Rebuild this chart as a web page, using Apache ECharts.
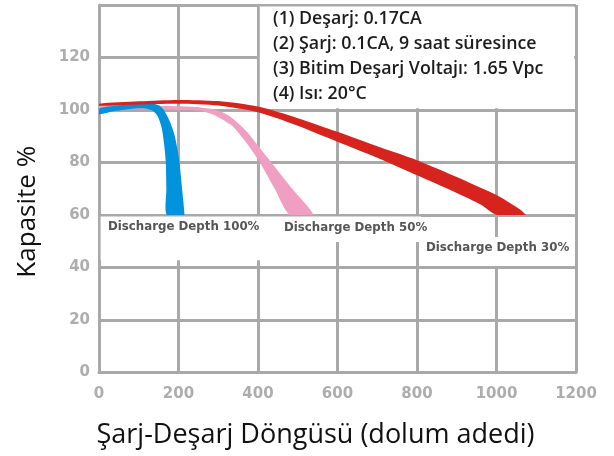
<!DOCTYPE html>
<html><head><meta charset="utf-8">
<script src="https://cdn.jsdelivr.net/npm/echarts@6/dist/echarts.min.js"></script>
<style>html,body{margin:0;padding:0;background:#fff}#c{width:614px;height:456px}</style>
</head><body><div id="c"></div>
<script>
// ---- data ----
const xTicks = [0, 200, 400, 600, 800, 1000, 1200];
const yTicks = [0, 20, 40, 60, 80, 100, 120];

// Discharge Depth 100% (blue band): outer edge and inner edge
const blueUpper = [[0,100.5],[40,101.6],[90,102.5],[125,102.8],[150,101.8],[160,100.6],[170,98.2],[180,95.0],[190,90.5],[197.5,85.0],[202.5,80.0],[209,70.0],[215,60.0]];
const blueLower = [[0,98.4],[40,99.6],[90,100.6],[118,100.6],[136,99.6],[148,97.5],[158,93.0],[164,86.7],[168,80.0],[169.5,70.0],[170.5,60.0]];

// Discharge Depth 50% (pink band)
const pinkUpper = [[0,101.8],[100,101.7],[204,101.4],[254,101.0],[296,100.0],[330,97.5],[372,91.7],[405,85.4],[432,80.3],[485,70.2],[539,60.0]];
const pinkLower = [[0,100.3],[100,100.3],[204,100.0],[254,99.6],[288,98.2],[330,94.6],[342,93.0],[375,86.7],[405,80.0],[442,70.0],[480,60.0]];

// Discharge Depth 30% (red band)
const redUpper = [[0,102.4],[100,103.3],[200,103.85],[300,103.4],[400,101.3],[500,96.9],[600,91.7],[700,86.2],[800,80.9],[900,74.5],[1000,67.6],[1040,64.0],[1060,62.0],[1074,60.0]];
const redLower = [[0,101.6],[100,102.1],[200,102.4],[300,101.7],[400,99.1],[500,94.0],[600,87.9],[700,81.8],[800,75.1],[900,68.4],[960,64.0],[1001,60.0]];

const bandLabels = ['Discharge Depth 100%', 'Discharge Depth 50%', 'Discharge Depth 30%'];
const noteLines = ['(1) Deşarj: 0.17CA', '(2) Şarj: 0.1CA, 9 saat süresince', '(3) Bitim Deşarj Voltajı: 1.65 Vpc', '(4) Isı: 20°C'];
const xName = 'Şarj-Deşarj Döngüsü (dolum adedi)';
const yName = 'Kapasite %';

// ---- chart ----
const chart = echarts.init(document.getElementById('c'), null, {renderer: 'canvas'});
const gridColor = '#a9a9a9';

function bandSeries(name, upper, lower, color, z) {
  const pts = upper.concat(lower.slice().reverse());
  return {
    type: 'custom', name: name, z: z, coordinateSystem: 'cartesian2d',
    data: pts, encode: {x: 0, y: 1}, silent: true, clip: true,
    renderItem: function (params, api) {
      if (params.dataIndex !== 0) return null;
      const p = pts.map(function (d) { return api.coord(d); });
      return {type: 'polygon', shape: {points: p, smooth: 0.25, smoothConstraint: [p[0], p[0]]}, style: {fill: color}};
    }
  };
}

const option = {
  animation: false,
  backgroundColor: '#ffffff',
  grid: {left: 99, right: 38, top: 5, bottom: 83.5, containLabel: false},
  xAxis: {
    type: 'value', min: 0, max: 1200, interval: 200,
    name: xName, nameLocation: 'middle', nameGap: 49,
    nameTextStyle: {fontFamily: 'Open Sans', fontSize: 27, color: '#111', padding: [0, 44, 0, 0]},
    axisLine: {show: true, lineStyle: {color: gridColor, width: 3}},
    axisTick: {show: false},
    splitLine: {show: true, lineStyle: {color: gridColor, width: 3}},
    axisLabel: {margin: 14, fontFamily: 'DejaVu Sans', fontWeight: 'bold', fontSize: 15, color: '#adadad',
      formatter: function (v) { return xTicks.indexOf(v) >= 0 ? String(v) : ''; }}
  },
  yAxis: {
    type: 'value', min: 0, max: 140, interval: 20,
    name: yName, nameLocation: 'middle', nameGap: 58, nameRotate: 90,
    nameTextStyle: {fontFamily: 'Open Sans', fontSize: 26, color: '#111', padding: [0, 46, 0, 0]},
    axisLine: {show: true, lineStyle: {color: gridColor, width: 3}},
    axisTick: {show: false},
    splitLine: {show: true, lineStyle: {color: gridColor, width: 3}},
    axisLabel: {margin: 9, fontFamily: 'DejaVu Sans', fontWeight: 'bold', fontSize: 15, color: '#adadad',
      formatter: function (v) { return yTicks.indexOf(v) >= 0 ? String(v) : ''; }}
  },
  series: [
    {
      type: 'custom', name: 'masks', z: 1, coordinateSystem: 'cartesian2d', silent: true,
      data: [[404.5,100.7,1195.5,139.4],[4,42.8,410,59.4],[410,49.7,810,59.4],[812,40.6,1195.5,51.6]],
      encode: {x: [0, 2], y: [1, 3]},
      renderItem: function (params, api) {
        const a = api.coord([api.value(0), api.value(3)]);
        const b = api.coord([api.value(2), api.value(1)]);
        return {type: 'rect', shape: {x: a[0], y: a[1], width: b[0] - a[0], height: b[1] - a[1]}, style: {fill: '#ffffff'}};
      }
    },
    bandSeries('Discharge Depth 50%', pinkUpper, pinkLower, '#f09ec1', 2),
    bandSeries('Discharge Depth 100%', blueUpper, blueLower, '#0092dc', 3),
    bandSeries('Discharge Depth 30%', redUpper, redLower, '#d7231e', 4)
  ],
  graphic: [
    {type: 'text', left: 273, top: 6.5, z: 10, style: {text: noteLines.join('\n'), font: '600 17.8px "Open Sans"', lineHeight: 25, fill: '#1c1c1c'}},
    {type: 'text', left: 108, top: 221, z: 10, style: {text: bandLabels[0], font: 'bold 11.8px "DejaVu Sans"', fill: '#555555'}},
    {type: 'text', left: 284, top: 222, z: 10, style: {text: bandLabels[1], font: 'bold 11.8px "DejaVu Sans"', fill: '#555555'}},
    {type: 'text', left: 426, top: 242, z: 10, style: {text: bandLabels[2], font: 'bold 11.8px "DejaVu Sans"', fill: '#555555'}}
  ]
};
chart.setOption(option);
</script>
</body></html>
